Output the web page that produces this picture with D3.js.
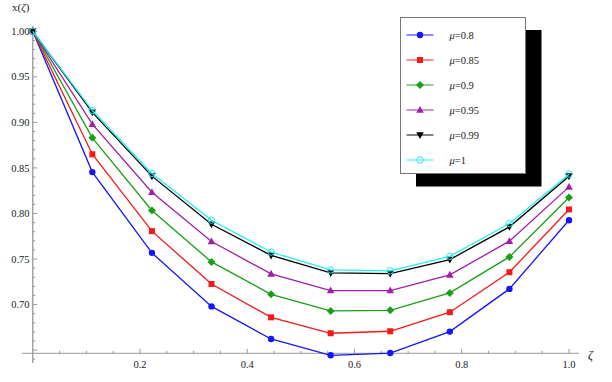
<!DOCTYPE html>
<html>
<head>
<meta charset="utf-8">
<script src="https://cdn.jsdelivr.net/npm/d3@7"></script>
<style>
  body { margin: 0; background: #fff; }
  svg { display: block; font-family: "Liberation Serif", "Times New Roman", serif; }
</style>
</head>
<body>
<script>
// values
const zeta = [0, 1/9, 2/9, 3/9, 4/9, 5/9, 6/9, 7/9, 8/9, 1];
const muLabels = ['0.8', '0.85', '0.9', '0.95', '0.99', '1'];
const mu08  = [1.0, 0.8454, 0.7567, 0.6980, 0.6622, 0.6443, 0.6468, 0.6703, 0.7172, 0.7926];
const mu085 = [1.0, 0.8650, 0.7806, 0.7226, 0.6860, 0.6685, 0.6707, 0.6916, 0.7355, 0.8044];
const mu09  = [1.0, 0.8830, 0.8033, 0.7468, 0.7113, 0.6930, 0.6937, 0.7128, 0.7523, 0.8176];
const mu095 = [1.0, 0.8980, 0.8234, 0.7692, 0.7337, 0.7154, 0.7154, 0.7326, 0.7696, 0.8292];
const mu099 = [1.0, 0.9110, 0.8410, 0.7882, 0.7540, 0.7347, 0.7340, 0.7494, 0.7853, 0.8410];
const mu1   = [1.0, 0.9130, 0.8440, 0.7926, 0.7577, 0.7380, 0.7370, 0.7530, 0.7890, 0.8432];
const xMajor = [0.2, 0.4, 0.6, 0.8, 1.0];
const yMajor = [0.70, 0.75, 0.80, 0.85, 0.90, 0.95, 1.00];

const W = 612, H = 382;
const svg = d3.select('body').append('svg').attr('width', W).attr('height', H);

const x = d3.scaleLinear().domain([0, 1]).range([32.75, 569]);
const y = d3.scaleLinear().domain([0.6465, 1.0]).range([353.3, 31.3]);

const series = [
  {label: muLabels[0], vals: mu08,  color: '#1515f5', shape: 'circle'},
  {label: muLabels[1], vals: mu085, color: '#f41818', shape: 'square'},
  {label: muLabels[2], vals: mu09,  color: '#17a017', shape: 'diamond'},
  {label: muLabels[3], vals: mu095, color: '#a01ea8', shape: 'triUp'},
  {label: muLabels[4], vals: mu099, color: '#000000', shape: 'triDown'},
  {label: muLabels[5], vals: mu1,   color: '#22eef0', shape: 'open'},
];

const axisColor = '#9a9a9a';

// axes
const ax = svg.append('g');
ax.append('line').attr('x1', 22).attr('x2', 579)
  .attr('y1', y(0.6465)).attr('y2', y(0.6465))
  .attr('stroke', axisColor).attr('stroke-width', 1);
ax.append('line').attr('x1', x(0)).attr('x2', x(0))
  .attr('y1', 26).attr('y2', 363)
  .attr('stroke', axisColor).attr('stroke-width', 1.3);

// x ticks
const xMinor = d3.range(1, 21).map(i => i * 0.05);
ax.selectAll('.xt').data(xMinor).enter().append('line')
  .attr('x1', d => x(d)).attr('x2', d => x(d))
  .attr('y1', y(0.6465))
  .attr('y2', d => y(0.6465) - (xMajor.some(m => Math.abs(m - d) < 1e-6) ? 4.5 : 2.5))
  .attr('stroke', axisColor);
ax.selectAll('.xl').data(xMajor).enter().append('text')
  .attr('x', d => x(d)).attr('y', 368)
  .attr('text-anchor', 'middle').attr('font-size', 10.5).attr('fill', '#222')
  .text(d => d.toFixed(1));

// y ticks
const yMinor = d3.range(64, 101).map(i => i / 100);
ax.selectAll('.yt').data(yMinor).enter().append('line')
  .attr('y1', d => y(d)).attr('y2', d => y(d))
  .attr('x1', x(0))
  .attr('x2', d => x(0) + (Math.round(d * 100) % 5 === 0 ? 4.5 : 2.5))
  .attr('stroke', axisColor);
ax.selectAll('.yl').data(yMajor).enter().append('text')
  .attr('x', 29.5).attr('y', d => y(d) + 3.6)
  .attr('text-anchor', 'end').attr('font-size', 10.5).attr('fill', '#222')
  .text(d => d.toFixed(2));

// axis labels
const yl = ax.append('text').attr('x', 12).attr('y', 11).attr('font-size', 11).attr('fill', '#222');
yl.append('tspan').text('x(');
yl.append('tspan').attr('font-style', 'italic').text('ζ');
yl.append('tspan').text(')');
ax.append('text').attr('x', 588).attr('y', 359).attr('font-size', 12)
  .attr('font-style', 'italic').attr('fill', '#222').text('ζ');

// marker drawing
function marker(g, shape, color, cx, cy) {
  if (shape === 'circle') {
    g.append('circle').attr('cx', cx).attr('cy', cy).attr('r', 3.2).attr('fill', color);
  } else if (shape === 'open') {
    g.append('circle').attr('cx', cx).attr('cy', cy).attr('r', 3.2)
      .attr('fill', 'none').attr('stroke', color).attr('stroke-width', 1);
  } else if (shape === 'square') {
    g.append('rect').attr('x', cx - 3).attr('y', cy - 3).attr('width', 6).attr('height', 6).attr('fill', color);
  } else if (shape === 'diamond') {
    g.append('path').attr('d', `M${cx},${cy - 4}L${cx + 4},${cy}L${cx},${cy + 4}L${cx - 4},${cy}Z`).attr('fill', color);
  } else if (shape === 'triUp') {
    g.append('path').attr('d', `M${cx},${cy - 4}L${cx + 3.8},${cy + 2.8}L${cx - 3.8},${cy + 2.8}Z`).attr('fill', color);
  } else if (shape === 'triDown') {
    g.append('path').attr('d', `M${cx},${cy + 4}L${cx + 3.8},${cy - 2.8}L${cx - 3.8},${cy - 2.8}Z`).attr('fill', color);
  }
}

// lines and points
const line = d3.line().x(d => x(d[0])).y(d => y(d[1]));
const plot = svg.append('g');
series.forEach(s => {
  const pts = zeta.map((z, i) => [z, s.vals[i]]);
  plot.append('path').datum(pts).attr('d', line)
    .attr('fill', 'none').attr('stroke', s.color).attr('stroke-width', 1.3);
  const mg = plot.append('g');
  pts.forEach(p => marker(mg, s.shape, s.color, x(p[0]), y(p[1])));
});

// legend
const lg = svg.append('g');
lg.append('rect').attr('x', 416).attr('y', 30).attr('width', 125.5).attr('height', 156.5).attr('fill', '#000');
lg.append('rect').attr('x', 400.5).attr('y', 17.5).attr('width', 125).attr('height', 156)
  .attr('fill', '#fff').attr('stroke', '#777').attr('stroke-width', 1);
series.forEach((s, i) => {
  const cy = 35 + i * 25;
  lg.append('line').attr('x1', 406.5).attr('x2', 433.5).attr('y1', cy).attr('y2', cy)
    .attr('stroke', s.color).attr('stroke-width', 1.3).attr('stroke-opacity', 0.75);
  marker(lg, s.shape, s.color, 420, cy);
  const t = lg.append('text').attr('x', 449.5).attr('y', cy + 3.8).attr('font-size', 10.5).attr('fill', '#222');
  t.append('tspan').attr('font-style', 'italic').text('μ');
  t.append('tspan').text('=' + s.label);
});
</script>
</body>
</html>
